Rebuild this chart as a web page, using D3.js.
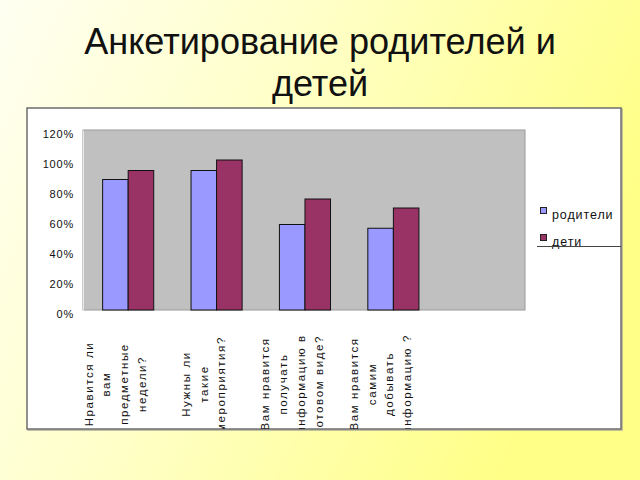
<!DOCTYPE html>
<html><head><meta charset="utf-8">
<script src="https://cdn.jsdelivr.net/npm/d3@7"></script>
<style>
html,body{margin:0;padding:0;overflow:hidden;}
svg{display:block;font-family:"Liberation Sans",Arial,sans-serif;}
</style></head>
<body>
<script>
const titleLines = ["Анкетирование родителей и", "детей"];
const categories = [
  ["Нравится ли", "вам", "предметные", "недели?"],
  ["Нужны ли", "такие", "мероприятия?"],
  ["Вам нравится", "получать", "информацию в", "готовом виде?"],
  ["Вам нравится", "самим", "добывать", "информацию ?"]
];
const seriesNames = ["родители", "дети"];
const parents = [0.87, 0.93, 0.57, 0.545];
const kids = [0.93, 1.00, 0.74, 0.68];
const yTicks = [0, 0.2, 0.4, 0.6, 0.8, 1.0, 1.2];
const colors = ["#9999ff", "#993366"];

const W = 640, H = 480;
const svg = d3.select("body").append("svg").attr("width", W).attr("height", H);
const defs = svg.append("defs");
const grad = defs.append("linearGradient").attr("id", "bg")
  .attr("x1", "0%").attr("y1", "0%").attr("x2", "100%").attr("y2", "35%");
grad.append("stop").attr("offset", "0%").attr("stop-color", "#fffff2");
grad.append("stop").attr("offset", "45%").attr("stop-color", "#ffffc8");
grad.append("stop").attr("offset", "100%").attr("stop-color", "#ffff88");
svg.append("rect").attr("width", W).attr("height", H).attr("fill", "url(#bg)");

// title
svg.append("g").attr("transform", "translate(320,0) scale(0.975,1)")
  .selectAll("text").data(titleLines).join("text")
  .attr("x", 0).attr("y", (d, i) => 54 + i * 42)
  .attr("text-anchor", "middle").attr("font-size", 37).attr("fill", "#111")
  .text(d => d);

// chart box
const box = {x: 27, y: 108, w: 594, h: 321};
defs.append("clipPath").attr("id", "boxclip").append("rect")
  .attr("x", box.x).attr("y", box.y).attr("width", box.w).attr("height", box.h);
svg.append("rect").attr("x", box.x + 1).attr("y", box.y + 1).attr("width", box.w).attr("height", box.h)
  .attr("fill", "none").attr("stroke", "#b0b0a0").attr("stroke-width", 1.5);
svg.append("rect").attr("x", box.x).attr("y", box.y).attr("width", box.w).attr("height", box.h)
  .attr("fill", "#fff").attr("stroke", "#6e6e6e").attr("stroke-width", 1.5);

const plot = {x: 83, y: 130, w: 442, h: 180};
const slots = d3.range(categories.length + 1);
const x0 = d3.scaleBand().domain(slots).range([plot.x, plot.x + plot.w]).padding(0);
const x1 = d3.scaleBand().domain(seriesNames)
  .range([x0.bandwidth() * 0.222, x0.bandwidth() * 0.8]).padding(0);
const y = d3.scaleLinear().domain([0, 1.2]).range([plot.y + plot.h, plot.y]);

svg.append("rect").attr("x", plot.x).attr("y", plot.y).attr("width", plot.w).attr("height", plot.h)
  .attr("fill", "#c0c0c0").attr("stroke", "#9a9a9a").attr("stroke-width", 1);

// y axis
const yAxis = svg.append("g").attr("transform", `translate(${plot.x},0)`)
  .call(d3.axisLeft(y).tickValues(yTicks).tickFormat(d3.format(".0%")).tickSize(0).tickPadding(9));
yAxis.select(".domain").attr("stroke", "#e8e8e8");
yAxis.selectAll("text").attr("font-size", 11).attr("letter-spacing", "0.8px")
  .attr("fill", "#111").attr("font-family", "Liberation Sans, Arial, sans-serif").attr("dy", "0.7em");

// bars
const data = categories.map((c, i) => ({i, vals: [parents[i], kids[i]]}));
const groups = svg.append("g").selectAll("g").data(data).join("g")
  .attr("transform", d => `translate(${x0(d.i)},0)`);
groups.selectAll("rect").data(d => d.vals.map((v, k) => ({k, v}))).join("rect")
  .attr("x", d => x1(seriesNames[d.k]))
  .attr("width", x1.bandwidth())
  .attr("y", d => y(d.v))
  .attr("height", d => y(0) - y(d.v))
  .attr("fill", d => colors[d.k])
  .attr("stroke", "#111").attr("stroke-width", 1);

// category labels (rotated, multi-line)
const lineGap = 17.8;
const labG = svg.append("g").attr("clip-path", "url(#boxclip)");
categories.forEach((lines, i) => {
  const cx = x0(i) + x0.bandwidth() / 2 - 12;
  const n = lines.length;
  lines.forEach((ln, j) => {
    const gx = cx + (j - (n - 1) / 2) * lineGap + 4;
    labG.append("text")
      .attr("transform", `translate(${gx},384) rotate(-90)`)
      .attr("text-anchor", "middle")
      .attr("font-size", 11.5).attr("letter-spacing", "1.6px").attr("fill", "#111")
      .text(ln);
  });
});

// legend
const lg = svg.append("g");
seriesNames.forEach((s, k) => {
  const ly = 207 + k * 27;
  lg.append("rect").attr("x", 540.5).attr("y", ly + 0.5).attr("width", 6).attr("height", 6)
    .attr("fill", colors[k]).attr("stroke", "#222").attr("stroke-width", 1);
  lg.append("text").attr("x", 552).attr("y", ly + 12).attr("font-size", 12.5)
    .attr("letter-spacing", "0.9px").attr("fill", "#111").text(s);
});
lg.append("line").attr("x1", 537).attr("x2", 621).attr("y1", 246.5).attr("y2", 246.5)
  .attr("stroke", "#444").attr("stroke-width", 1);
</script>
</body></html>
